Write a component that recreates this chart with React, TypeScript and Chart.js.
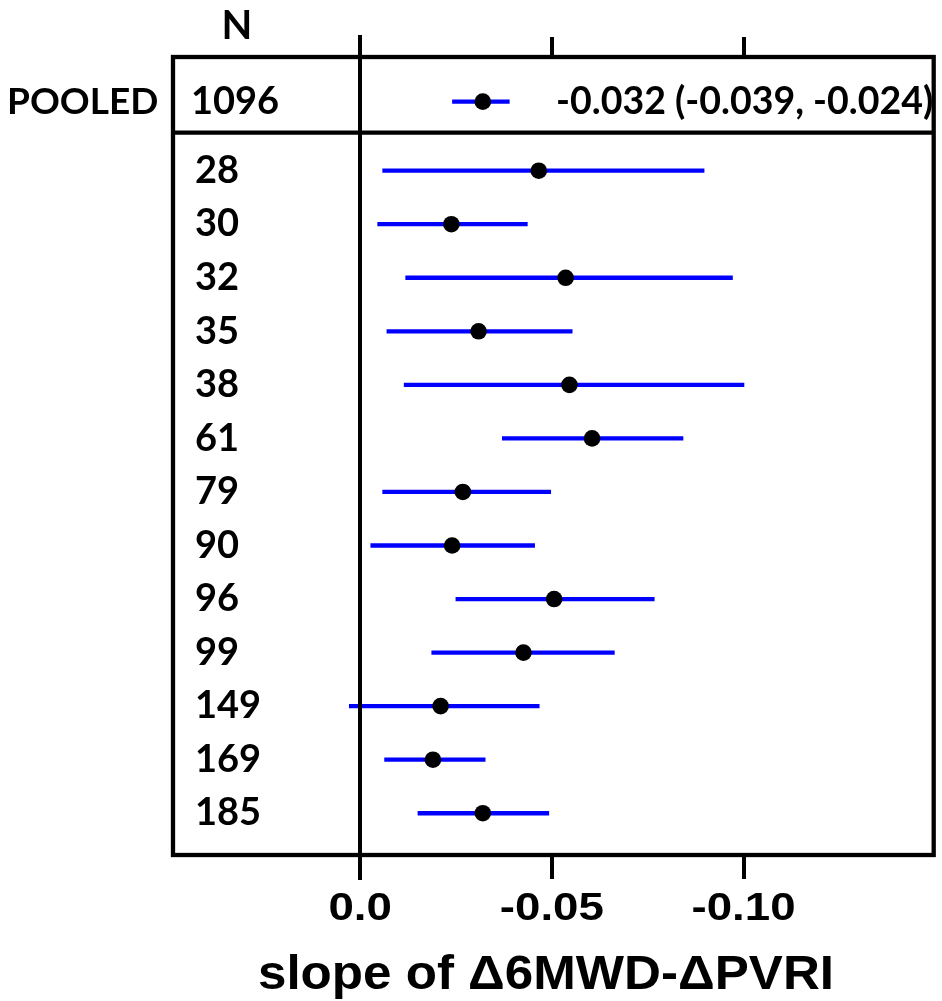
import React, { useEffect, useRef } from 'react';
import { Chart, registerables } from 'chart.js';

Chart.register(...registerables);

// ---- data ----
const STUDY_N = ['28', '30', '32', '35', '38', '61', '79', '90', '96', '99', '149', '169', '185'];
const ESTIMATE = [-0.0466, -0.0238, -0.0536, -0.0309, -0.0546, -0.0605, -0.0268, -0.024, -0.0506, -0.0426, -0.021, -0.019, -0.032];
const CI_LOW = [-0.0058, -0.0045, -0.0118, -0.0069, -0.0114, -0.037, -0.0058, -0.0027, -0.0249, -0.0186, 0.0029, -0.0063, -0.015];
const CI_HIGH = [-0.0898, -0.0437, -0.0972, -0.0554, -0.1002, -0.0843, -0.0498, -0.0456, -0.0768, -0.0664, -0.0468, -0.0327, -0.0493];

const POOLED_LABEL = 'POOLED';
const POOLED_N = '1096';
const POOLED_EST = -0.032;
const POOLED_LOW = -0.024;
const POOLED_HIGH = -0.039;

const X_TICKS = [0, -0.05, -0.1];
const X_TICK_LABELS = ['0.0', '-0.05', '-0.10'];
const X_TITLE = 'slope of \u03946MWD-\u0394PVRI';
const N_HEADER = 'N';

// layout constants (rows in y-units)
const POOLED_ROW = -1.289;
const SEPARATOR_ROW = -0.71;
const Y_MIN = -2.123;
const Y_MAX = 12.78;
const X_MIN = -0.1496;
const X_MAX = 0.0488;

const BLUE = '#0000ff';
const LEFT_FONT = 'Lato, "Open Sans", sans-serif';
const AXIS_FONT = '"Liberation Sans", Arial, sans-serif';

const forestPlugin = {
  id: 'forest',
  beforeDatasetsDraw(chart: any) {
    const ctx = chart.ctx;
    const xs = chart.scales.x;
    const ys = chart.scales.y;
    const area = chart.chartArea;
    ctx.save();
    ctx.strokeStyle = BLUE;
    ctx.lineWidth = 4.3;
    ctx.lineCap = 'butt';
    const drawCI = (lo: number, hi: number, row: number) => {
      const y = ys.getPixelForValue(row);
      ctx.beginPath();
      ctx.moveTo(xs.getPixelForValue(lo), y);
      ctx.lineTo(xs.getPixelForValue(hi), y);
      ctx.stroke();
    };
    drawCI(POOLED_LOW, POOLED_HIGH, POOLED_ROW);
    for (let i = 0; i < STUDY_N.length; i++) drawCI(CI_LOW[i], CI_HIGH[i], i);

    // zero reference line (extends into ticks)
    ctx.strokeStyle = '#000';
    ctx.lineWidth = 4;
    const x0 = Math.round(xs.getPixelForValue(0));
    ctx.beginPath();
    ctx.moveTo(x0, area.top - 22);
    ctx.lineTo(x0, area.bottom + 25);
    ctx.stroke();
    ctx.restore();
  },
  afterDatasetsDraw(chart: any) {
    const ctx = chart.ctx;
    const xs = chart.scales.x;
    const ys = chart.scales.y;
    const area = chart.chartArea;
    ctx.save();
    ctx.strokeStyle = '#000';
    ctx.lineWidth = 4.3;
    // box
    ctx.strokeRect(area.left, area.top, area.right - area.left, area.bottom - area.top);
    // separator under pooled row
    const ySep = ys.getPixelForValue(SEPARATOR_ROW);
    ctx.beginPath();
    ctx.moveTo(area.left, ySep);
    ctx.lineTo(area.right, ySep);
    ctx.stroke();
    // ticks top and bottom
    ctx.lineWidth = 4;
    X_TICKS.forEach((t) => {
      const x = Math.round(xs.getPixelForValue(t));
      ctx.beginPath();
      ctx.moveTo(x, area.top - 20);
      ctx.lineTo(x, area.top);
      ctx.moveTo(x, area.bottom);
      ctx.lineTo(x, area.bottom + 24);
      ctx.stroke();
    });

    ctx.fillStyle = '#000';
    // tick labels
    ctx.font = `bold 39px ${AXIS_FONT}`;
    ctx.textAlign = 'center';
    ctx.textBaseline = 'alphabetic';
    X_TICKS.forEach((t, i) => {
      const x = xs.getPixelForValue(t);
      ctx.save();
      ctx.translate(x, area.bottom + 65);
      ctx.scale(1.17, 1);
      ctx.fillText(X_TICK_LABELS[i], 0, 0);
      ctx.restore();
    });
    // axis title
    ctx.font = `bold 48px ${AXIS_FONT}`;
    const tw = ctx.measureText(X_TITLE).width;
    ctx.save();
    ctx.translate(546, area.bottom + 134);
    ctx.scale(576 / tw, 1);
    ctx.fillText(X_TITLE, 0, 0);
    ctx.restore();

    // left column labels
    ctx.font = `bold 40px ${LEFT_FONT}`;
    ctx.textAlign = 'center';
    ctx.textBaseline = 'alphabetic';
    ctx.fillText(N_HEADER, 237, 39);

    ctx.textBaseline = 'middle';
    ctx.textAlign = 'left';
    const yPool = ys.getPixelForValue(POOLED_ROW);
    ctx.font = `bold 37px ${LEFT_FONT}`;
    ctx.fillText(POOLED_LABEL, 7, yPool);
    ctx.font = `bold 38px ${LEFT_FONT}`;
    ctx.fillText(POOLED_N, 191, yPool);
    STUDY_N.forEach((n, i) => {
      ctx.fillText(n, 195, ys.getPixelForValue(i));
    });
    // pooled estimate text
    ctx.font = `bold 37.5px ${LEFT_FONT}`;
    const txt = `${POOLED_EST.toFixed(3)} (${POOLED_HIGH.toFixed(3)}, ${POOLED_LOW.toFixed(3)})`;
    ctx.fillText(txt, 556, yPool);
    ctx.restore();
  },
};

export default function App() {
  const ref = useRef<HTMLCanvasElement | null>(null);
  useEffect(() => {
    if (!ref.current) return;
    const points = ESTIMATE.map((v, i) => ({ x: v, y: i }));
    points.unshift({ x: POOLED_EST, y: POOLED_ROW });
    const chart = new Chart(ref.current, {
      type: 'scatter',
      data: {
        datasets: [
          {
            data: points,
            pointRadius: 8.3,
            pointHoverRadius: 8.3,
            backgroundColor: '#000',
            borderWidth: 0,
          },
        ],
      },
      options: {
        responsive: false,
        animation: false,
        events: [],
        layout: { padding: { left: 173, right: 5, top: 57, bottom: 146 } },
        plugins: { legend: { display: false }, tooltip: { enabled: false } },
        scales: {
          x: { type: 'linear', reverse: true, min: X_MIN, max: X_MAX, display: false },
          y: { type: 'linear', reverse: true, min: Y_MIN, max: Y_MAX, display: false },
        },
      },
      plugins: [forestPlugin],
    });
    return () => chart.destroy();
  }, []);
  return (
    <div style={{ position: 'absolute', left: 0, top: 0, width: 942, height: 1001, background: '#fff' }}>
      <canvas ref={ref} width={942} height={1001} style={{ display: 'block', width: 942, height: 1001 }} />
    </div>
  );
}
